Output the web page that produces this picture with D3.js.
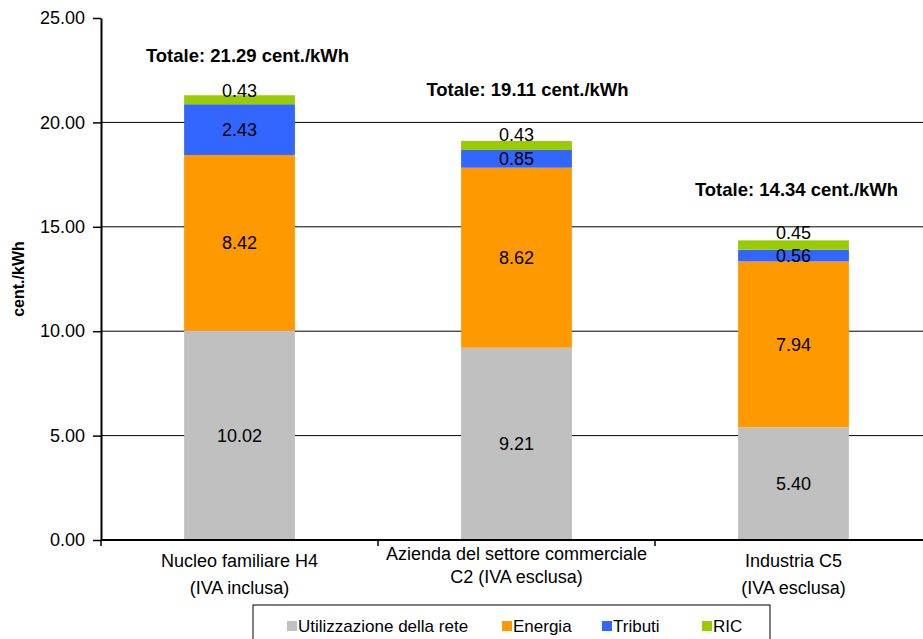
<!DOCTYPE html>
<html>
<head>
<meta charset="utf-8">
<script src="https://cdn.jsdelivr.net/npm/d3@7"></script>
<style>
  body { margin: 0; background: #fff; }
  svg { display: block; font-family: "Liberation Sans", Arial, sans-serif; }
</style>
</head>
<body>
<div id="chart"></div>
<script>
// Data
const categories = ["Nucleo familiare H4", "Azienda del settore commerciale", "Industria C5"];
const categoryLines = [
    ["Nucleo familiare H4", "(IVA inclusa)"],
    ["Azienda del settore commerciale", "C2 (IVA esclusa)"],
    ["Industria C5", "(IVA esclusa)"]
];
const seriesNames = ["Utilizzazione della rete", "Energia", "Tributi", "RIC"];
const rete = [10.02, 9.21, 5.40];
const energia = [8.42, 8.62, 7.94];
const tributi = [2.43, 0.85, 0.56];
const ric = [0.43, 0.43, 0.45];
const totals = [21.29, 19.11, 14.34];
const yTicks = [0, 5, 10, 15, 20, 25];
const colors = ["#c0c0c0", "#ff9900", "#3366ff", "#99cc00"];

// layout tweaks (label placement as in the original text boxes)
const titleDx = [8, 11, 3];
const titleAbove = [33, 45, 45];
const ricLabelShift = [-9, -11, -13];
const catLabelTop = [567, 560, 567];
const catLineGap = [27, 23, 27];
const legendOffsets = [0, 215, 315, 415];

const W = 923, H = 639;
const margin = {top: 18, left: 101, bottom: 99};
const step = 277;

const svg = d3.select("#chart").append("svg")
    .attr("width", W)
    .attr("height", H);

const x = d3.scaleBand()
    .domain(categories)
    .range([margin.left, margin.left + step * categories.length])
    .padding(0);

const y = d3.scaleLinear()
    .domain([0, 25])
    .range([H - margin.bottom, margin.top]);

const barW = x.bandwidth() * 0.4;

// gridlines
svg.append("g")
    .selectAll("line")
    .data(yTicks.filter(d => d > 0 && d < 25))
    .join("line")
    .attr("x1", margin.left)
    .attr("x2", W)
    .attr("y1", d => y(d))
    .attr("y2", d => y(d))
    .attr("stroke", "#000")
    .attr("stroke-width", 1);

// stacked data
const table = categories.map((c, i) => ({cat: c, rete: rete[i], energia: energia[i], tributi: tributi[i], ric: ric[i]}));
const keys = ["rete", "energia", "tributi", "ric"];
const stacked = d3.stack().keys(keys)(table);

const layers = svg.append("g")
    .selectAll("g")
    .data(stacked)
    .join("g")
    .attr("fill", (d, i) => colors[i]);

layers.selectAll("rect")
    .data(d => d)
    .join("rect")
    .attr("x", d => x(d.data.cat) + (x.bandwidth() - barW) / 2)
    .attr("width", barW)
    .attr("y", d => y(d[1]))
    .attr("height", d => y(d[0]) - y(d[1]));

// value labels
stacked.forEach((layer, li) => {
    svg.append("g")
        .selectAll("text")
        .data(layer)
        .join("text")
        .attr("x", d => x(d.data.cat) + x.bandwidth() / 2)
        .attr("y", (d, i) => (y(d[0]) + y(d[1])) / 2 + 6.5 + (li === 3 ? ricLabelShift[i] : 0))
        .attr("text-anchor", "middle")
        .style("font-size", "18px")
        .attr("fill", "#000")
        .text(d => (d[1] - d[0]).toFixed(2));
});

// totals
svg.append("g")
    .selectAll("text")
    .data(totals)
    .join("text")
    .attr("x", (d, i) => x(categories[i]) + x.bandwidth() / 2 + titleDx[i])
    .attr("y", (d, i) => y(d) - titleAbove[i])
    .attr("text-anchor", "middle")
    .style("font-size", "18.5px")
    .style("font-weight", "bold")
    .text(d => `Totale: ${d.toFixed(2)} cent./kWh`);

// y axis
const yAxis = d3.axisLeft(y)
    .tickValues(yTicks)
    .tickFormat(d3.format(".2f"))
    .tickSize(8)
    .tickSizeOuter(0)
    .tickPadding(8);

const yG = svg.append("g")
    .attr("transform", `translate(${margin.left},0)`)
    .call(yAxis);
yG.select(".domain").attr("stroke-width", 2);
yG.selectAll(".tick line").attr("stroke-width", 1.5);
yG.selectAll("text")
    .style("font-size", "18px")
    .style("font-family", "Liberation Sans, Arial, sans-serif")
    .attr("fill", "#000");

// x axis line and ticks at band edges
const y0 = y(0);
svg.append("line")
    .attr("x1", margin.left)
    .attr("x2", W)
    .attr("y1", y0)
    .attr("y2", y0)
    .attr("stroke", "#000")
    .attr("stroke-width", 2);

svg.append("g")
    .selectAll("line")
    .data(categories)
    .join("line")
    .attr("x1", d => x(d))
    .attr("x2", d => x(d))
    .attr("y1", y0)
    .attr("y2", y0 + 6)
    .attr("stroke", "#000")
    .attr("stroke-width", 1.5);

// category labels
const catG = svg.append("g")
    .selectAll("text")
    .data(categoryLines)
    .join("text")
    .attr("text-anchor", "middle")
    .style("font-size", "18px")
    .attr("fill", "#000");

catG.selectAll("tspan")
    .data((d, i) => d.map((t, j) => ({t, i, j})))
    .join("tspan")
    .attr("x", d => x(categories[d.i]) + x.bandwidth() / 2)
    .attr("y", d => catLabelTop[d.i] + d.j * catLineGap[d.i])
    .text(d => d.t);

// y axis title
svg.append("text")
    .attr("transform", `translate(24,${(y(25) + y0) / 2}) rotate(-90)`)
    .attr("text-anchor", "middle")
    .style("font-size", "16px")
    .style("font-weight", "bold")
    .text("cent./kWh");

// legend
const legend = svg.append("g");
legend.append("rect")
    .attr("x", 253)
    .attr("y", 605)
    .attr("width", 517)
    .attr("height", 40)
    .attr("fill", "#fff")
    .attr("stroke", "#000")
    .attr("stroke-width", 1);

const items = legend.selectAll("g")
    .data(seriesNames)
    .join("g")
    .attr("transform", (d, i) => `translate(${287 + legendOffsets[i]},0)`);

items.append("rect")
    .attr("x", 0)
    .attr("y", 621)
    .attr("width", 10)
    .attr("height", 10)
    .attr("fill", (d, i) => colors[i]);

items.append("text")
    .attr("x", 11)
    .attr("y", 632)
    .style("font-size", "17px")
    .text(d => d);
</script>
</body>
</html>
